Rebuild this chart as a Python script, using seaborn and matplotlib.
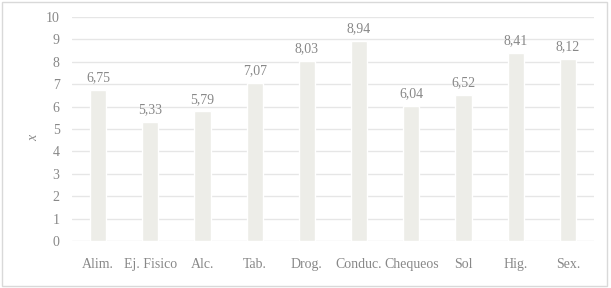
import matplotlib
matplotlib.use("Agg")
import matplotlib.pyplot as plt
import seaborn as sns
import pandas as pd
from matplotlib.patches import Rectangle

categories = ["Alim.", "Ej. Fisico", "Alc.", "Tab.", "Drog.", "Conduc.", "Chequeos", "Sol", "Hig.", "Sex."]
values = [6.75, 5.33, 5.79, 7.07, 8.03, 8.94, 6.04, 6.52, 8.41, 8.12]
yticks = list(range(0, 11))

df = pd.DataFrame({"cat": categories, "val": values})

sns.set_theme(style="white")
plt.rcParams["font.family"] = ["Liberation Serif", "DejaVu Serif"]

text_col = "#888888"
fig = plt.figure(figsize=(6.11, 2.88), dpi=100)
ax = fig.add_axes([0.118, 0.163, 0.854, 0.778])

sns.barplot(data=df, x="cat", y="val", color="#EDEDE8", width=0.31,
            saturation=1, ax=ax, zorder=3)

for i, v in enumerate(values):
    ax.annotate(f"{v:.2f}".replace(".", ","), xy=(i, v), xytext=(0, 4),
                textcoords="offset points", ha="center", va="bottom",
                fontsize=10, color=text_col)

ax.set_ylim(0, 10)
ax.set_yticks(yticks)
ax.set_xlim(-0.5, len(categories) - 0.5)
ax.yaxis.grid(True, color="#E6E6E6", linewidth=1, zorder=0)
ax.set_axisbelow(True)
for s in ax.spines.values():
    s.set_visible(False)
ax.tick_params(axis="both", length=0, labelsize=10, labelcolor=text_col)
ax.tick_params(axis="x", pad=12)
ax.tick_params(axis="y", pad=9)
ax.set_xlabel("")
ax.set_ylabel("x", fontsize=10, color=text_col, style="italic")
ax.yaxis.set_label_coords(-0.062, 0.46)

fig.patches.append(Rectangle((0.004, 0.008), 0.99, 0.984, transform=fig.transFigure,
                             fill=False, edgecolor="#D9D9D9", linewidth=1))

fig.savefig("out.png", dpi=100)
